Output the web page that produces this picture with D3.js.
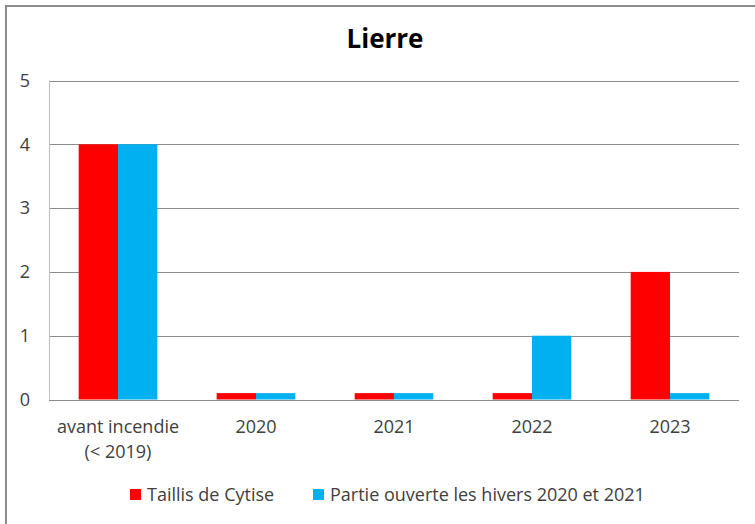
<!DOCTYPE html>
<meta charset="utf-8">
<head>
  <title>Lierre</title>
</head>
<style>
body { margin: 0; background: #fff; }
text { font-family: "Open Sans", "Noto Sans", sans-serif; fill: #404040; }
.title { font-weight: bold; fill: #000; font-size: 26px; }
.grid line { stroke: #8c8c8c; stroke-width: 1px; }
</style>
<body>
<svg width="755" height="524"></svg>
<script src="https://cdnjs.cloudflare.com/ajax/libs/d3/7.8.5/d3.min.js"></script>
<script>
var categories = ["avant incendie\n(< 2019)", "2020", "2021", "2022", "2023"];
var seriesNames = ["Taillis de Cytise", "Partie ouverte les hivers 2020 et 2021"];
var taillis = [4, 0.1, 0.1, 0.1, 2];
var partie = [4, 0.1, 0.1, 1, 0.1];
var yTicks = [0, 1, 2, 3, 4, 5];
var colors = ["#ff0000", "#00b0f0"];

var svg = d3.select("svg");

// outer frame
svg.append("rect")
  .attr("x", 6).attr("y", 6)
  .attr("width", 760).attr("height", 530)
  .attr("fill", "none")
  .attr("stroke", "#8c8c8c")
  .attr("stroke-width", 2);

var plotLeft = 49, plotRight = 739, plotTop = 80.5, plotBottom = 399.5;

var x = d3.scaleBand().domain(categories).range([plotLeft, plotRight]).padding(0);
var y = d3.scaleLinear().domain([0, 5]).range([plotBottom, plotTop]);
var xs = d3.scaleBand().domain([0, 1])
  .range([x.bandwidth() * 0.215, x.bandwidth() * 0.785]);

svg.append("text")
  .attr("class", "title")
  .attr("x", 385).attr("y", 48)
  .attr("text-anchor", "middle")
  .text("Lierre");

// gridlines
svg.append("g").attr("class", "grid")
  .selectAll("line")
  .data(yTicks)
  .enter().append("line")
  .attr("x1", plotLeft).attr("x2", plotRight)
  .attr("y1", function(d) { return Math.round(y(d)) + 0.5; })
  .attr("y2", function(d) { return Math.round(y(d)) + 0.5; });

// y axis line
svg.append("line")
  .attr("x1", plotLeft + 0.5).attr("x2", plotLeft + 0.5)
  .attr("y1", plotTop).attr("y2", plotBottom)
  .attr("stroke", "#bfbfbf");

// y labels
svg.append("g").selectAll("text")
  .data(yTicks)
  .enter().append("text")
  .attr("x", 30).attr("y", function(d) { return y(d); })
  .attr("dy", "0.35em")
  .attr("text-anchor", "end")
  .style("font-size", "18px")
  .text(function(d) { return d; });

// bars
var data = [taillis, partie];
data.forEach(function(vals, s) {
  svg.append("g").selectAll("rect")
    .data(vals)
    .enter().append("rect")
    .attr("x", function(d, i) { return x(categories[i]) + xs(s); })
    .attr("width", xs.bandwidth())
    .attr("y", function(d) { return y(d); })
    .attr("height", function(d) { return plotBottom - y(d); })
    .attr("fill", colors[s]);
});

// x labels
var xl = svg.append("g").selectAll("text")
  .data(categories)
  .enter().append("text")
  .attr("x", function(d) { return x(d) + x.bandwidth() / 2; })
  .attr("y", 433)
  .attr("text-anchor", "middle")
  .style("font-size", "18px");
xl.each(function(d) {
  var t = d3.select(this);
  d.split("\n").forEach(function(line, i) {
    t.append("tspan")
      .attr("x", t.attr("x"))
      .attr("dy", i === 0 ? 0 : 25)
      .text(line);
  });
});

// legend
var legX = [130, 313];
var leg = svg.append("g").selectAll("g")
  .data(seriesNames)
  .enter().append("g")
  .attr("transform", function(d, i) { return "translate(" + legX[i] + ",489)"; });
leg.append("rect")
  .attr("width", 11).attr("height", 11)
  .attr("fill", function(d, i) { return colors[i]; });
leg.append("text")
  .attr("x", 17).attr("y", 5.5)
  .attr("dy", "0.35em")
  .style("font-size", "18px")
  .text(function(d) { return d; });
</script>
</body>
</html>
